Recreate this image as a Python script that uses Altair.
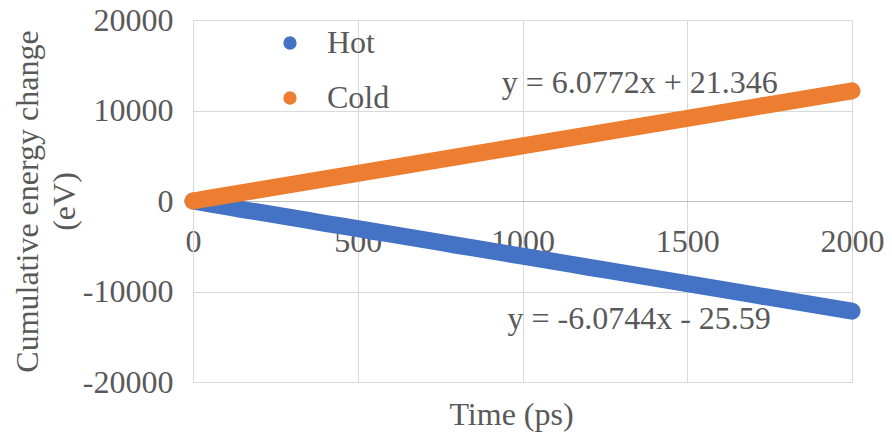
import altair as alt
import pandas as pd

# Sample times (ps)
time_ps = [0, 50, 100, 150, 200, 250, 300, 350, 400, 450, 500, 550, 600, 650, 700,
           750, 800, 850, 900, 950, 1000, 1050, 1100, 1150, 1200, 1250, 1300, 1350,
           1400, 1450, 1500, 1550, 1600, 1650, 1700, 1750, 1800, 1850, 1900, 1950, 2000]

# Cumulative energy change (eV)
hot = [0, -330, -630, -940, -1240, -1540, -1850, -2150, -2460, -2760, -3060, -3370,
       -3670, -3970, -4280, -4580, -4890, -5190, -5490, -5800, -6100, -6400, -6710,
       -7010, -7320, -7620, -7920, -8230, -8530, -8830, -9140, -9440, -9750, -10050,
       -10350, -10660, -10960, -11260, -11570, -11870, -12170]
cold = [0, 320, 630, 930, 1240, 1540, 1840, 2150, 2450, 2760, 3060, 3360, 3670, 3970,
        4280, 4580, 4880, 5190, 5490, 5790, 6100, 6400, 6710, 7010, 7310, 7620, 7920,
        8230, 8530, 8830, 9140, 9440, 9740, 10050, 10350, 10660, 10960, 11260, 11570,
        11870, 12170]

series_names = ["Hot", "Cold"]
series_colors = ["#4472C4", "#ED7D31"]

# Linear fits (slope, intercept) and their equation labels
fit_slope = [-6.0744, 6.0772]
fit_intercept = [-25.59, 21.346]
fit_labels = ["y = -6.0744x - 25.59", "y = 6.0772x + 21.346"]
label_x = [1354, 1356]
label_y = [-14150, 11930]

x_ticks = [0, 500, 1000, 1500, 2000]
y_ticks = [-20000, -10000, 0, 10000, 20000]

FONT = "'Times New Roman', 'Liberation Serif', Times, serif"
FS = 32
TEXT = "#595959"
GRID = "#d9d9d9"

df = pd.DataFrame({
    "time": time_ps * 2,
    "energy": hot + cold,
    "series": ["Hot"] * len(time_ps) + ["Cold"] * len(time_ps),
})

fit_rows = []
for name, m, b in zip(series_names, fit_slope, fit_intercept):
    for t in (x_ticks[0], x_ticks[-1]):
        fit_rows.append({"time": t, "energy": m * t + b, "series": name})
fit_df = pd.DataFrame(fit_rows)

label_df = pd.DataFrame({"time": label_x, "energy": label_y, "text": fit_labels})

x_scale = alt.Scale(domain=[0, 2000], nice=False, zero=False)
y_scale = alt.Scale(domain=[-20000, 20000], nice=False)
color_scale = alt.Scale(domain=series_names, range=series_colors)

x_enc = alt.X(
    "time:Q", scale=x_scale,
    axis=alt.Axis(
        values=x_ticks, orient="bottom", offset=-181, grid=True, gridColor=GRID,
        domainColor="#bfbfbf", ticks=False, tickSize=0, labelPadding=25,
        labelFlush=False, labelExpr="'' + datum.value",
        labelFont=FONT, labelFontSize=FS, labelColor=TEXT,
        title="Time (ps)", titleFont=FONT, titleFontSize=FS, titleColor=TEXT,
        titleFontWeight="normal", titleX=318, titleY=223, titleBaseline="alphabetic",
        titleAnchor="middle",
    ),
)
y_enc = alt.Y(
    "energy:Q", scale=y_scale,
    axis=alt.Axis(
        values=y_ticks, grid=True, gridColor=GRID, domainColor=GRID, ticks=False,
        tickSize=0, labelPadding=20, labelExpr="'' + datum.value",
        labelFont=FONT, labelFontSize=FS, labelColor=TEXT,
        title=["Cumulative energy change", "(eV)"], titleFont=FONT, titleFontSize=FS,
        titleColor=TEXT, titleFontWeight="normal", titleAngle=-90, titleAlign="center",
        titleBaseline="top", titleX=-181, titleY=181, titleLineHeight=37,
    ),
)

layers = []

# Dotted trend lines sit underneath the data bands
for name, col in zip(series_names, series_colors):
    layers.append(
        alt.Chart(fit_df).transform_filter(alt.datum.series == name)
        .mark_line(strokeWidth=2.5, strokeDash=[2, 3], color=col)
        .encode(x=alt.X("time:Q", scale=x_scale), y=alt.Y("energy:Q", scale=y_scale))
    )

legend = alt.Legend(
    orient="none", legendX=81, legendY=7, title=None, padding=0,
    labelFont=FONT, labelFontSize=FS, labelColor=TEXT, labelOffset=21,
    symbolType="circle", symbolSize=177, symbolStrokeWidth=0, rowPadding=23,
)

for name, col in zip(series_names, series_colors):
    sub = alt.Chart(df).transform_filter(alt.datum.series == name)
    band = sub.mark_line(strokeWidth=17, strokeCap="round", color=col).encode(
        x=x_enc, y=y_enc,
    )
    pts = sub.mark_circle(size=227, opacity=1).encode(
        x=x_enc, y=y_enc,
        color=alt.Color("series:N", scale=color_scale, legend=legend),
    )
    layers += [band, pts]

labels = alt.Chart(label_df).mark_text(
    font=FONT, fontSize=FS, color=TEXT, align="center", baseline="alphabetic"
).encode(
    x=alt.X("time:Q", scale=x_scale),
    y=alt.Y("energy:Q", scale=y_scale),
    text="text:N",
)
layers.append(labels)

chart = alt.layer(*layers).properties(
    width=659, height=362,
    autosize=alt.AutoSizeParams(type="none"),
    padding={"left": 193, "top": 20, "right": 40, "bottom": 51},
    background="white",
).configure_view(stroke=None)

chart.save("out.html", embed_options={"renderer": "svg", "actions": False})
